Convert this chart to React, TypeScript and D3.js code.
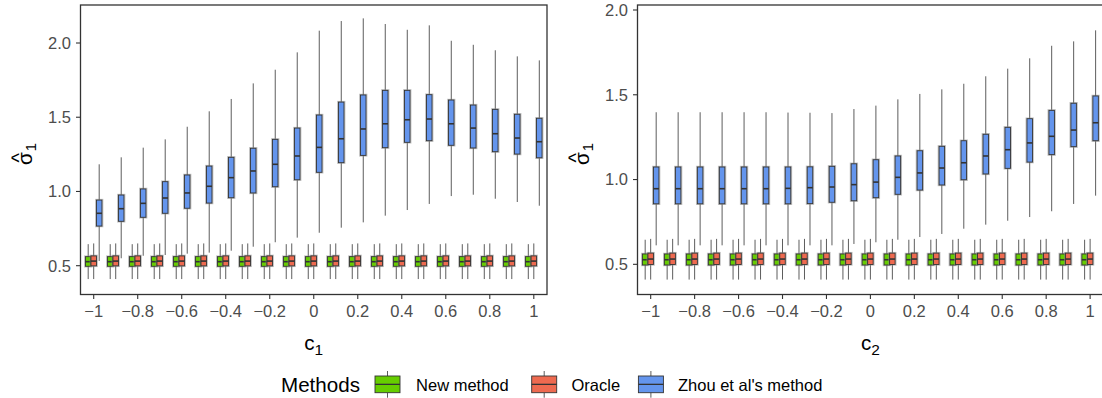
import React from "react";
import * as d3 from "d3";

// Tuning parameter values on the x axis (shared by both panels)
const cValues = [-1, -0.9, -0.8, -0.7, -0.6, -0.5, -0.4, -0.3, -0.2, -0.1, 0, 0.1, 0.2, 0.3, 0.4, 0.5, 0.6, 0.7, 0.8, 0.9, 1];
const xTickValues = [-1, -0.8, -0.6, -0.4, -0.2, 0, 0.2, 0.4, 0.6, 0.8, 1];
const xTickLabels = ["\u22121", "\u22120.8", "\u22120.6", "\u22120.4", "\u22120.2", "0", "0.2", "0.4", "0.6", "0.8", "1"];
const yTickValues = [0.5, 1.0, 1.5, 2.0];
const yTickLabels = ["0.5", "1.0", "1.5", "2.0"];

const methods = ["New method", "Oracle", "Zhou et al's method"];
const methodColors = ["#66CD00", "#EE6A50", "#6495ED"];

// New method: boxplot summaries per c value
const newLow = [0.41, 0.41, 0.41, 0.41, 0.41, 0.41, 0.41, 0.41, 0.41, 0.41, 0.41, 0.41, 0.41, 0.41, 0.41, 0.41, 0.41, 0.41, 0.41, 0.41, 0.41];
const newQ1 = [0.496, 0.496, 0.496, 0.496, 0.496, 0.496, 0.496, 0.496, 0.496, 0.496, 0.496, 0.496, 0.496, 0.496, 0.496, 0.496, 0.496, 0.496, 0.496, 0.496, 0.496];
const newMed = [0.527, 0.527, 0.527, 0.527, 0.527, 0.527, 0.527, 0.527, 0.527, 0.527, 0.527, 0.527, 0.527, 0.527, 0.527, 0.527, 0.527, 0.527, 0.527, 0.527, 0.527];
const newQ3 = [0.561, 0.561, 0.561, 0.561, 0.561, 0.561, 0.561, 0.561, 0.561, 0.561, 0.561, 0.561, 0.561, 0.561, 0.561, 0.561, 0.561, 0.561, 0.561, 0.561, 0.561];
const newHigh = [0.645, 0.645, 0.645, 0.645, 0.645, 0.645, 0.645, 0.645, 0.645, 0.645, 0.645, 0.645, 0.645, 0.645, 0.645, 0.645, 0.645, 0.645, 0.645, 0.645, 0.645];

// Oracle estimator
const oracleLow = [0.41, 0.41, 0.41, 0.41, 0.41, 0.41, 0.41, 0.41, 0.41, 0.41, 0.41, 0.41, 0.41, 0.41, 0.41, 0.41, 0.41, 0.41, 0.41, 0.41, 0.41];
const oracleQ1 = [0.499, 0.499, 0.499, 0.499, 0.499, 0.499, 0.499, 0.499, 0.499, 0.499, 0.499, 0.499, 0.499, 0.499, 0.499, 0.499, 0.499, 0.499, 0.499, 0.499, 0.499];
const oracleMed = [0.531, 0.531, 0.531, 0.531, 0.531, 0.531, 0.531, 0.531, 0.531, 0.531, 0.531, 0.531, 0.531, 0.531, 0.531, 0.531, 0.531, 0.531, 0.531, 0.531, 0.531];
const oracleQ3 = [0.566, 0.566, 0.566, 0.566, 0.566, 0.566, 0.566, 0.566, 0.566, 0.566, 0.566, 0.566, 0.566, 0.566, 0.566, 0.566, 0.566, 0.566, 0.566, 0.566, 0.566];
const oracleHigh = [0.65, 0.65, 0.65, 0.65, 0.65, 0.65, 0.65, 0.65, 0.65, 0.65, 0.65, 0.65, 0.65, 0.65, 0.65, 0.65, 0.65, 0.65, 0.65, 0.65, 0.65];

// Zhou et al's method, varying c1
const zhouC1Low = [0.532, 0.55, 0.567, 0.572, 0.581, 0.588, 0.601, 0.628, 0.658, 0.689, 0.722, 0.756, 0.792, 0.837, 0.875, 0.916, 0.969, 0.978, 0.951, 0.929, 0.904];
const zhouC1Q1 = [0.767, 0.799, 0.826, 0.853, 0.887, 0.922, 0.958, 0.99, 1.032, 1.079, 1.129, 1.194, 1.243, 1.295, 1.331, 1.342, 1.311, 1.293, 1.268, 1.252, 1.227];
const zhouC1Med = [0.853, 0.884, 0.92, 0.956, 0.99, 1.035, 1.093, 1.138, 1.183, 1.239, 1.297, 1.355, 1.421, 1.456, 1.483, 1.488, 1.456, 1.427, 1.389, 1.36, 1.335];
const zhouC1Q3 = [0.942, 0.976, 1.017, 1.066, 1.111, 1.171, 1.23, 1.291, 1.351, 1.427, 1.515, 1.602, 1.65, 1.681, 1.681, 1.652, 1.616, 1.582, 1.553, 1.52, 1.493];
const zhouC1High = [1.183, 1.23, 1.295, 1.351, 1.436, 1.54, 1.623, 1.728, 1.82, 1.937, 2.083, 2.148, 2.166, 2.128, 2.089, 2.119, 2.015, 1.988, 1.951, 1.91, 1.883];

// Zhou et al's method, varying c2
const zhouC2Low = [0.612, 0.612, 0.612, 0.612, 0.612, 0.612, 0.612, 0.612, 0.612, 0.62, 0.63, 0.645, 0.661, 0.679, 0.71, 0.734, 0.757, 0.779, 0.813, 0.856, 0.905];
const zhouC2Q1 = [0.857, 0.857, 0.857, 0.857, 0.857, 0.857, 0.857, 0.858, 0.866, 0.875, 0.893, 0.913, 0.938, 0.968, 0.999, 1.033, 1.066, 1.103, 1.147, 1.194, 1.229];
const zhouC2Med = [0.946, 0.946, 0.946, 0.946, 0.946, 0.946, 0.948, 0.952, 0.956, 0.97, 0.985, 1.013, 1.039, 1.068, 1.099, 1.139, 1.176, 1.216, 1.255, 1.292, 1.335];
const zhouC2Q3 = [1.074, 1.074, 1.074, 1.074, 1.074, 1.074, 1.074, 1.075, 1.078, 1.093, 1.117, 1.139, 1.17, 1.196, 1.229, 1.267, 1.308, 1.359, 1.408, 1.45, 1.493];
const zhouC2High = [1.397, 1.397, 1.397, 1.397, 1.397, 1.397, 1.395, 1.394, 1.392, 1.416, 1.436, 1.473, 1.505, 1.532, 1.565, 1.609, 1.654, 1.715, 1.789, 1.815, 1.88];

type Stats = { low: number[]; q1: number[]; med: number[]; q3: number[]; high: number[] };

const newStats: Stats = { low: newLow, q1: newQ1, med: newMed, q3: newQ3, high: newHigh };
const oracleStats: Stats = { low: oracleLow, q1: oracleQ1, med: oracleMed, q3: oracleQ3, high: oracleHigh };
const zhouC1: Stats = { low: zhouC1Low, q1: zhouC1Q1, med: zhouC1Med, q3: zhouC1Q3, high: zhouC1High };
const zhouC2: Stats = { low: zhouC2Low, q1: zhouC2Q1, med: zhouC2Med, q3: zhouC2Q3, high: zhouC2High };

const FONT = "'Liberation Sans', Arial, Helvetica, sans-serif";
const TEXT_GRAY = "#4D4D4D";
const DARK = "#333333";
const TICK_SIZE = 16.5;
const TITLE_SIZE = 20.6;

const BOX_W = 5.5;
const DODGE = 5.5;

type PanelProps = {
  left: number;
  right: number;
  top: number;
  bottom: number;
  yDomain: [number, number];
  zhou: Stats;
  sub: string;
};

function Panel({ left, right, top, bottom, yDomain, zhou, sub }: PanelProps) {
  const x = d3.scaleLinear().domain([-1.06, 1.06]).range([left, right]);
  const y = d3.scaleLinear().domain(yDomain).range([bottom, top]);
  const series: Stats[] = [newStats, oracleStats, zhou];
  const offsets = [-DODGE, 0, DODGE];
  const cx = (left + right) / 2;
  const titleX = left - 48.8;
  const titleY = (top + bottom) / 2 + 2.5;

  return (
    <g>
      {series.map((s, si) => (
        <g key={si}>
          {cValues.map((c, i) => {
            const xc = x(c) + offsets[si];
            const yq1 = y(s.q1[i]);
            const yq3 = y(s.q3[i]);
            return (
              <g key={i}>
                <line x1={xc} x2={xc} y1={y(s.high[i])} y2={yq3} stroke={DARK} strokeWidth={0.8} />
                <line x1={xc} x2={xc} y1={yq1} y2={y(s.low[i])} stroke={DARK} strokeWidth={0.8} />
                <rect
                  x={xc - BOX_W / 2 - 0.8}
                  y={yq3 - 0.6}
                  width={BOX_W + 1.6}
                  height={yq1 - yq3 + 1.2}
                  fill="none"
                  stroke="#8c8c8c"
                  strokeOpacity={0.55}
                  strokeWidth={1.2}
                />
                <rect
                  x={xc - BOX_W / 2}
                  y={yq3}
                  width={BOX_W}
                  height={yq1 - yq3}
                  fill={methodColors[si]}
                  stroke={DARK}
                  strokeWidth={0.9}
                />
                <line
                  x1={xc - BOX_W / 2}
                  x2={xc + BOX_W / 2}
                  y1={y(s.med[i])}
                  y2={y(s.med[i])}
                  stroke={DARK}
                  strokeWidth={1.6}
                />
              </g>
            );
          })}
        </g>
      ))}

      <rect x={left} y={top} width={right - left} height={bottom - top} fill="none" stroke={DARK} strokeWidth={1.3} />

      {yTickValues.map((v, i) => (
        <g key={v}>
          <line x1={left - 4.5} x2={left} y1={y(v)} y2={y(v)} stroke={DARK} strokeWidth={1.1} />
          <text
            x={left - 9.5}
            y={y(v)}
            dy="0.36em"
            textAnchor="end"
            fontSize={TICK_SIZE}
            fill={TEXT_GRAY}
            fontFamily={FONT}
          >
            {yTickLabels[i]}
          </text>
        </g>
      ))}

      {xTickValues.map((v, i) => (
        <g key={v}>
          <line x1={x(v)} x2={x(v)} y1={bottom} y2={bottom + 4.5} stroke={DARK} strokeWidth={1.1} />
          <text x={x(v)} y={bottom + 22} textAnchor="middle" fontSize={TICK_SIZE} fill={TEXT_GRAY} fontFamily={FONT}>
            {xTickLabels[i]}
          </text>
        </g>
      ))}

      <text x={cx} y={350} textAnchor="middle" fontSize={TITLE_SIZE} fill="#000" fontFamily={FONT}>
        c
        <tspan fontSize={TITLE_SIZE * 0.75} dy={5}>
          {sub}
        </tspan>
      </text>

      <g transform={`translate(${titleX}, ${titleY}) rotate(-90)`}>
        <text x={0} y={0} textAnchor="end" fontSize={TITLE_SIZE} fill="#000" fontFamily={FONT}>
          σ
        </text>
        <text x={-5.6} y={-5.5} textAnchor="middle" fontSize={20} fill="#000" fontFamily={FONT}>
          ^
        </text>
        <text x={1} y={4.5} textAnchor="start" fontSize={TITLE_SIZE * 0.72} fill="#000" fontFamily={FONT}>
          1
        </text>
      </g>
    </g>
  );
}

// Legend layout: key centres and label starts along the bottom row
const legendKeyCenters = [387.5, 544.2, 650.9];
const legendLabelX = [416.1, 571.5, 678];

function Legend() {
  const boxTop = 376;
  const boxBottom = 392.7;
  const keyW = 25;
  return (
    <g>
      <text x={281} y={391.5} fontSize={TITLE_SIZE} fill="#000" fontFamily={FONT}>
        Methods
      </text>
      {methods.map((m, i) => {
        const c = legendKeyCenters[i];
        return (
          <g key={m}>
            <line x1={c} x2={c} y1={boxTop - 5} y2={boxTop} stroke={DARK} strokeWidth={0.8} />
            <line x1={c} x2={c} y1={boxBottom} y2={boxBottom + 5} stroke={DARK} strokeWidth={0.8} />
            <rect
              x={c - keyW / 2}
              y={boxTop}
              width={keyW}
              height={boxBottom - boxTop}
              fill={methodColors[i]}
              stroke={DARK}
              strokeWidth={0.9}
            />
            <line
              x1={c - keyW / 2}
              x2={c + keyW / 2}
              y1={(boxTop + boxBottom) / 2}
              y2={(boxTop + boxBottom) / 2}
              stroke={DARK}
              strokeWidth={1.3}
            />
            <text x={legendLabelX[i]} y={390.5} fontSize={TICK_SIZE} fill="#000" fontFamily={FONT}>
              {m}
            </text>
          </g>
        );
      })}
    </g>
  );
}

export default function App() {
  return (
    <svg
      width={1102}
      height={398}
      style={{ position: "absolute", left: 0, top: 0, background: "#fff" }}
      xmlns="http://www.w3.org/2000/svg"
    >
      <rect width={1102} height={398} fill="#fff" />
      <Panel left={80.5} right={547} top={5} bottom={294.5} yDomain={[0.306, 2.256]} zhou={zhouC1} sub="1" />
      <Panel left={637.5} right={1103.3} top={5} bottom={294.5} yDomain={[0.322, 2.0295]} zhou={zhouC2} sub="2" />
      <Legend />
    </svg>
  );
}
